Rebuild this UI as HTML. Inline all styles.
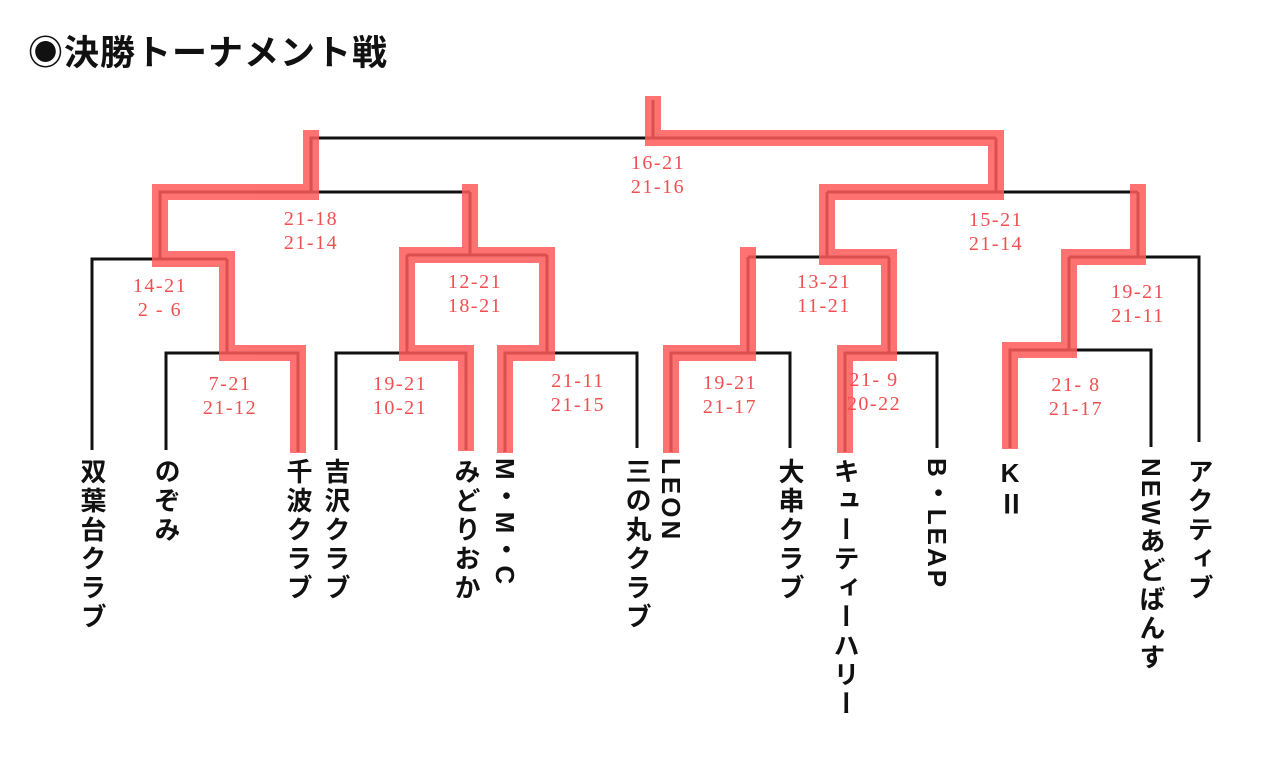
<!DOCTYPE html>
<html><head><meta charset="utf-8"><style>
html,body{margin:0;padding:0;background:#fff;width:1280px;height:770px;overflow:hidden;position:relative}
.t{position:absolute;left:28px;top:25px;font:bold 35px "Liberation Sans","Noto Sans CJK JP",sans-serif;color:#111;letter-spacing:1px;white-space:nowrap}
.s{position:absolute;font:20px/24px "Liberation Serif","DejaVu Serif",serif;color:#f05050;text-align:center;width:90px;white-space:pre;letter-spacing:1.5px}
.v{position:absolute;top:458px;width:30px;writing-mode:vertical-rl;font:bold 26px/30px "Liberation Sans","Noto Sans CJK JP",sans-serif;color:#111;letter-spacing:3px;white-space:nowrap}
.u{text-orientation:upright}
</style></head><body>
<div class="t">◉決勝トーナメント戦</div>
<svg width="1280" height="770" style="position:absolute;left:0;top:0">
<g fill="none" stroke="#111" stroke-width="3">
<path d="M92 450V259H227M166 450V353H298V452M227 353V259"/>
<path d="M336 450V353H466V450M407 353V255M505 452V353H637V448M547 353V255M407 255H547M470 255V192"/>
<path d="M160 259V192H470M311 192V138H996M653 138V100"/>
<path d="M671 452V353H790V448M748 353V257M845 452V353H937V448M889 353V257M748 257H889M827 257V192"/>
<path d="M1010 448V350H1151V447M1069 350V257M1069 257H1199V442M1138 257V192M827 192H1138M996 192V138"/>
</g>
<g fill="none" stroke="#ff5a5a" opacity="0.85" stroke-width="16" stroke-linejoin="miter" stroke-linecap="square">
<path d="M298 445V353H227V259H160V192H311V138"/>
<path d="M466 443V353H407V255H547V353H505V445"/>
<path d="M470 255V192"/>
<path d="M671 445V353H748V255"/>
<path d="M845 445V353H889V257H827V192H996V138H653V104"/>
<path d="M1010 441V350H1069V257H1138V192"/>
</g>
</svg>
<div class="s" style="left:613px;top:151px">16-21
21-16</div>
<div class="s" style="left:266px;top:207px">21-18
21-14</div>
<div class="s" style="left:115px;top:274px">14-21
2 - 6</div>
<div class="s" style="left:430px;top:270px">12-21
18-21</div>
<div class="s" style="left:185px;top:372px">7-21
21-12</div>
<div class="s" style="left:355px;top:372px">19-21
10-21</div>
<div class="s" style="left:533px;top:369px">21-11
21-15</div>
<div class="s" style="left:779px;top:270px">13-21
11-21</div>
<div class="s" style="left:951px;top:208px">15-21
21-14</div>
<div class="s" style="left:1093px;top:280px">19-21
21-11</div>
<div class="s" style="left:685px;top:371px">19-21
21-17</div>
<div class="s" style="left:829px;top:368px">21- 9
20-22</div>
<div class="s" style="left:1031px;top:373px">21- 8
21-17</div>
<div class="v" style="left:77px">双葉台クラブ</div>
<div class="v" style="left:151px">のぞみ</div>
<div class="v" style="left:283px">千波クラブ</div>
<div class="v" style="left:321px">吉沢クラブ</div>
<div class="v" style="left:451px">みどりおか</div>
<div class="v" style="left:490px">M・M・C</div>
<div class="v" style="left:622px">三の丸クラブ</div>
<div class="v" style="left:656px">LEON</div>
<div class="v" style="left:775px">大串クラブ</div>
<div class="v" style="left:830px">キューティーハリー</div>
<div class="v" style="left:922px">B・LEAP</div>
<div class="v u" style="left:995px">KⅡ</div>
<div class="v" style="left:1136px">NEWあどばんす</div>
<div class="v" style="left:1184px">アクティブ</div>
</body></html>
